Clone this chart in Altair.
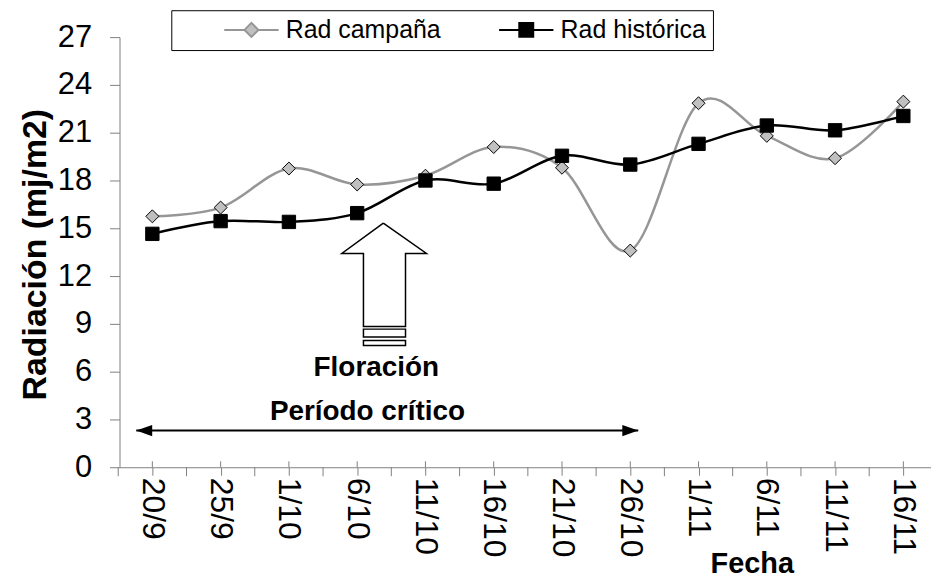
import json
import altair as alt
import pandas as pd

# ---------------- data ----------------
fechas = ["20/9", "25/9", "1/10", "6/10", "11/10", "16/10",
          "21/10", "26/10", "1/11", "6/11", "11/11", "16/11"]
rad_campana = [15.75, 16.3, 18.75, 17.75, 18.3, 20.1, 18.8, 13.6, 22.85, 20.8, 19.4, 22.95]
rad_historica = [14.65, 15.45, 15.4, 15.95, 18.0, 17.8, 19.55, 19.0, 20.3, 21.45, 21.15, 22.05]
series = ["Rad campaña", "Rad histórica"]
y_ticks = list(range(0, 28, 3))

# annotation geometry, in data units (x = index of date, y = MJ/m2)
flor_arrow_x = [3.383, 4.015, 3.708, 3.708, 3.092, 3.092, 2.775, 3.383]
flor_arrow_y = [15.33, 13.42, 13.42, 8.83, 8.83, 13.42, 13.42, 15.33]
flor_bars_x = [3.092, 3.708]
flor_bars_y = [[8.67, 8.17], [7.96, 7.64]]
flor_label = ("Floración", 3.28, 6.25)
periodo_label = ("Período crítico", 3.15, 3.45)
periodo_span = (-0.236, 7.117, 2.3)

FONT = "Liberation Sans"
GRAY = "#969696"
AXIS_GRAY = "#808080"

idx = list(range(len(fechas)))
df = pd.DataFrame({
    "idx": idx * 2,
    "fecha": fechas * 2,
    "valor": rad_campana + rad_historica,
    "serie": [series[0]] * len(fechas) + [series[1]] * len(fechas),
})
df_c = df[df.serie == series[0]]
df_h = df[df.serie == series[1]]

x_scale = alt.Scale(domain=[-0.481, 11.405], nice=False, zero=False)
y_scale = alt.Scale(domain=[0, 27], nice=False)

label_expr = json.dumps(fechas) + "[datum.value]"

x_enc = alt.X(
    "idx:Q", scale=x_scale,
    axis=alt.Axis(
        values=idx, labelExpr=label_expr, title="Fecha",
        titleX=635, titleY=106, titleAngle=0, titleAlign="center",
        titleBaseline="alphabetic", titleFont=FONT, titleFontSize=29,
        titleFontWeight="bold", titleColor="black",
        labelAngle=90, labelAlign="left", labelBaseline="middle",
        labelFont=FONT, labelFontSize=32, labelColor="black",
        labelPadding=2, tickSize=8, tickColor=AXIS_GRAY,
        domainColor=AXIS_GRAY, grid=False, labelOverlap=False,
        labelFlush=False,
    ),
)
y_enc = alt.Y(
    "valor:Q", scale=y_scale,
    axis=alt.Axis(
        values=y_ticks, title="Radiación (mj/m2)",
        titleX=-84, titleY=218, titleAngle=270, titleAlign="center",
        titleBaseline="middle", titleFont=FONT, titleFontSize=34,
        titleFontWeight="bold", titleColor="black",
        labelFont=FONT, labelFontSize=31, labelColor="black",
        labelPadding=18, tickSize=10, tickColor=AXIS_GRAY,
        domainColor=AXIS_GRAY, grid=False,
    ),
)

line_c = alt.Chart(df_c).mark_line(
    color=GRAY, strokeWidth=2.5, interpolate="cardinal"
).encode(x=x_enc, y=y_enc, order="idx:Q")
pts_c = alt.Chart(df_c).mark_point(
    shape="diamond", size=170, filled=True, fill="#c0c0c0",
    stroke="black", strokeWidth=1, opacity=1
).encode(x="idx:Q", y="valor:Q")
line_h = alt.Chart(df_h).mark_line(
    color="black", strokeWidth=2.5, interpolate="cardinal"
).encode(x="idx:Q", y="valor:Q", order="idx:Q")
pts_h = alt.Chart(df_h).mark_point(
    shape="square", size=180, filled=True, fill="black",
    stroke="black", strokeWidth=1, opacity=1
).encode(x="idx:Q", y="valor:Q")

# x-axis tick details (major ticks crossing the axis, minor ticks between dates)
ticks_df = pd.DataFrame({"idx": idx})
minor_df = pd.DataFrame({"pos": [i - 0.5 for i in idx]})
major_up = alt.Chart(ticks_df).mark_rule(color=AXIS_GRAY, strokeWidth=1).encode(
    x="idx:Q", y=alt.value(426), y2=alt.value(432))
minor = alt.Chart(minor_df).mark_rule(color=AXIS_GRAY, strokeWidth=1).encode(
    x="pos:Q", y=alt.value(432), y2=alt.value(441))

# legend (only legend, no marks)
legend_df = pd.DataFrame({"serie": series})
sym_c = "M-3.9,0H-1M1,0H3.9M0,-1L1,0L0,1L-1,0Z"
sym_h = "M-3.9,0H-1M1,0H3.9M-1,-1H1V1H-1Z"
leg = alt.Legend(
    orient="none", legendX=52, legendY=-27, direction="horizontal",
    title=None, strokeColor="black", fillColor="white", padding=7,
    labelFont=FONT, labelFontSize=25, labelColor="black", labelLimit=400,
    symbolSize=196, symbolOffset=61, labelOffset=22, columnPadding=12,
    symbolStrokeWidth=2,
)
legend_layer = alt.Chart(legend_df).transform_filter("false").mark_point(
    strokeWidth=2, opacity=1, filled=True
).encode(
    shape=alt.Shape("serie:N", scale=alt.Scale(domain=series, range=[sym_c, sym_h]), legend=leg),
    stroke=alt.Stroke("serie:N", scale=alt.Scale(domain=series, range=[GRAY, "black"]), legend=leg),
    fill=alt.Fill("serie:N", scale=alt.Scale(domain=series, range=["#c0c0c0", "black"]), legend=leg),
)

# floración arrow
arrow_df = pd.DataFrame({"x": flor_arrow_x, "y": flor_arrow_y, "o": list(range(len(flor_arrow_x)))})
arrow = alt.Chart(arrow_df).mark_line(color="black", strokeWidth=1.5, interpolate="linear").encode(
    x="x:Q", y="y:Q", order="o:Q")
bars_df = pd.DataFrame({
    "x": [flor_bars_x[0]] * 2, "x2": [flor_bars_x[1]] * 2,
    "y": [b[0] for b in flor_bars_y], "y2": [b[1] for b in flor_bars_y],
})
bars = alt.Chart(bars_df).mark_rect(fill="white", stroke="black", strokeWidth=1.5).encode(
    x="x:Q", x2="x2:Q", y="y:Q", y2="y2:Q")

text_df = pd.DataFrame({
    "t": [flor_label[0], periodo_label[0]],
    "x": [flor_label[1], periodo_label[1]],
    "y": [flor_label[2], periodo_label[2]],
})
texts = alt.Chart(text_df).mark_text(
    font=FONT, fontSize=28, fontWeight="bold", color="black",
    align="center", baseline="middle"
).encode(x="x:Q", y="y:Q", text="t:N")

span_df = pd.DataFrame({"x": [periodo_span[0]], "x2": [periodo_span[1]], "y": [periodo_span[2]]})
span = alt.Chart(span_df).mark_rule(color="black", strokeWidth=2).encode(
    x="x:Q", x2="x2:Q", y="y:Q")
head_l_df = pd.DataFrame({"x": [periodo_span[0]], "y": [periodo_span[2]]})
head_r_df = pd.DataFrame({"x": [periodo_span[1]], "y": [periodo_span[2]]})
head_l = alt.Chart(head_l_df).mark_point(
    shape="M0,0L2,-0.7L2,0.7Z", size=256, filled=True, fill="black", opacity=1, strokeWidth=0
).encode(x="x:Q", y="y:Q")
head_r = alt.Chart(head_r_df).mark_point(
    shape="M0,0L-2,-0.7L-2,0.7Z", size=256, filled=True, fill="black", opacity=1, strokeWidth=0
).encode(x="x:Q", y="y:Q")

chart = alt.layer(
    line_c, pts_c, line_h, pts_h, major_up, minor,
    arrow, bars, texts, span, head_l, head_r, legend_layer,
).properties(
    width=815, height=432,
    autosize=alt.AutoSizeParams(type="none"),
    padding={"left": 112, "top": 28, "right": 0, "bottom": 110},
    background="white",
).configure_view(stroke=None)

chart.save("out.html", embed_options={"renderer": "svg", "actions": False})
